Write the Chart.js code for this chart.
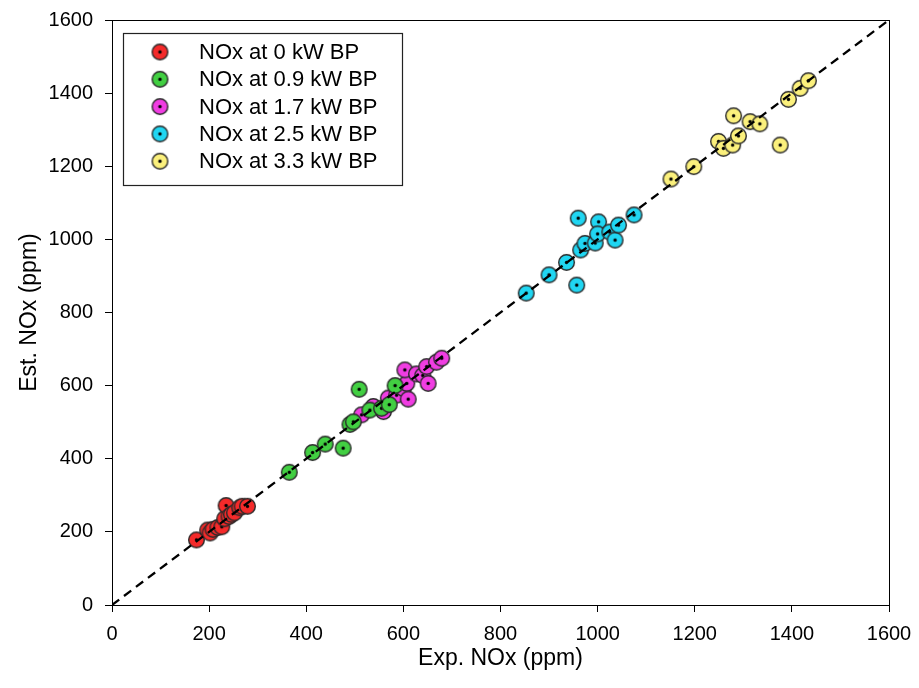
<!DOCTYPE html>
<html>
<head>
<meta charset="utf-8">
<script src="https://cdn.jsdelivr.net/npm/chart.js@4/dist/chart.umd.min.js"></script>
<style>
  html, body { margin: 0; padding: 0; background: #fff; }
  #wrap { width: 919px; height: 688px; }
</style>
</head>
<body>
<div id="wrap"><canvas id="cv" width="919" height="688"></canvas></div>
<script>
// Dados (Exp. x Est., ppm) ----------------------------------------------------
const labels = ["NOx at 0 kW BP", "NOx at 0.9 kW BP", "NOx at 1.7 kW BP", "NOx at 2.5 kW BP", "NOx at 3.3 kW BP"];
const cores  = ["#f42a2a", "#42cf42", "#f03de2", "#20d6f2", "#fbf07c"];

const bp0 = [[174,178],[197,205],[202,197],[208,207],[218,212],[226,214],[232,236],[235,272],[241,242],[246,248],[252,252],[263,266],[268,270],[279,270]];
const bp09 = [[365,363],[413,417],[439,440],[476,429],[490,494],[497,501],[509,590],[531,533],[555,538],[571,548],[583,600]];
const bp17 = [[514,520],[538,543],[559,529],[569,566],[586,574],[600,592],[607,606],[610,563],[603,643],[627,632],[640,628],[651,606],[648,652],[668,664],[679,675]];
const bp25 = [[853,853],[900,903],[936,937],[957,875],[960,1058],[965,971],[974,989],[995,990],[1002,1048],[1000,1015],[1025,1020],[1036,998],[1043,1039],[1075,1067]];
const bp33 = [[1151,1165],[1198,1199],[1249,1268],[1259,1249],[1278,1258],[1290,1283],[1280,1338],[1314,1322],[1334,1316],[1376,1258],[1393,1383],[1417,1413],[1434,1434]];
const series = [bp0, bp09, bp17, bp25, bp33];

const linha = [[0,0],[1600,1600]];
const ticks = [0, 200, 400, 600, 800, 1000, 1200, 1400, 1600];

// marcador: círculo colorido com ponto preto no centro
function marcador(cor) {
  const c = document.createElement("canvas");
  c.width = 19; c.height = 19;
  const g = c.getContext("2d");
  g.beginPath(); g.arc(9.5, 9.5, 7.8, 0, Math.PI * 2);
  g.fillStyle = cor; g.fill();
  g.lineWidth = 1.4; g.strokeStyle = "#2a2a2a"; g.stroke();
  g.beginPath(); g.arc(9.5, 9.5, 1.7, 0, Math.PI * 2);
  g.fillStyle = "#000"; g.fill();
  return c;
}
const imgs = cores.map(marcador);

const datasets = series.map((s, i) => ({
  type: "scatter",
  label: labels[i],
  data: s.map(p => ({ x: p[0], y: p[1] })),
  pointStyle: imgs[i],
  order: 1
}));
datasets.push({
  type: "line",
  label: "1:1",
  data: linha.map(p => ({ x: p[0], y: p[1] })),
  borderColor: "#000",
  borderWidth: 2.3,
  borderDash: [9, 6],
  pointRadius: 0,
  order: 0
});

// moldura + legenda desenhadas à mão
const frame = {
  id: "frame",
  afterDraw(chart) {
    const { ctx, chartArea: a } = chart;
    ctx.save();
    ctx.strokeStyle = "#000"; ctx.lineWidth = 1;
    ctx.strokeRect(a.left + 0.5, a.top + 0.5, a.right - a.left, a.bottom - a.top);

    // legenda
    const bx = 123, by = 33, bw = 279, bh = 152;
    ctx.fillStyle = "#fff";
    ctx.fillRect(bx, by, bw, bh);
    ctx.strokeStyle = "#222"; ctx.lineWidth = 1.2;
    ctx.strokeRect(bx + 0.5, by + 0.5, bw, bh);
    ctx.font = "22px 'Liberation Sans', Arial, sans-serif";
    ctx.textBaseline = "middle";
    labels.forEach((t, i) => {
      const y = 52 + i * 27.3;
      ctx.drawImage(imgs[i], 160 - 9.5, y - 9.5);
      ctx.fillStyle = "#000";
      ctx.fillText(t, 199, y + 1);
    });
    ctx.restore();
  }
};

const fonte = { family: "'Liberation Sans', Arial, sans-serif", size: 20 };
const fonteTit = { family: "'Liberation Sans', Arial, sans-serif", size: 23 };

new Chart(document.getElementById("cv"), {
  data: { datasets },
  options: {
    responsive: false,
    animation: false,
    layout: { padding: { left: 0, top: 20, right: 30, bottom: 0 } },
    plugins: { legend: { display: false }, tooltip: { enabled: false } },
    scales: {
      x: {
        type: "linear", min: 0, max: 1600,
        afterBuildTicks: s => { s.ticks = ticks.map(v => ({ value: v })); },
        afterFit: s => { s.height = 83; s.paddingLeft = 0; s.paddingRight = 0; },
        grid: { drawOnChartArea: false, drawTicks: true, tickLength: 7, color: "#000" },
        border: { display: true, color: "#000" },
        ticks: { color: "#000", font: fonte, padding: 10, maxRotation: 0, callback: v => String(v) },
        title: { display: true, text: "Exp. NOx (ppm)", color: "#000", font: fonteTit, padding: { top: 2, bottom: 16 } }
      },
      y: {
        type: "linear", min: 0, max: 1600,
        afterBuildTicks: s => { s.ticks = ticks.map(v => ({ value: v })); },
        afterFit: s => { s.width = 112; s.paddingTop = 0; s.paddingBottom = 0; },
        grid: { drawOnChartArea: false, drawTicks: true, tickLength: 7, color: "#000" },
        border: { display: true, color: "#000" },
        ticks: { color: "#000", font: fonte, padding: 12, callback: v => String(v) },
        title: { display: true, text: "Est. NOx (ppm)", color: "#000", font: fonteTit, padding: { top: 16, bottom: 4 } }
      }
    }
  },
  plugins: [frame]
});
</script>
</body>
</html>
